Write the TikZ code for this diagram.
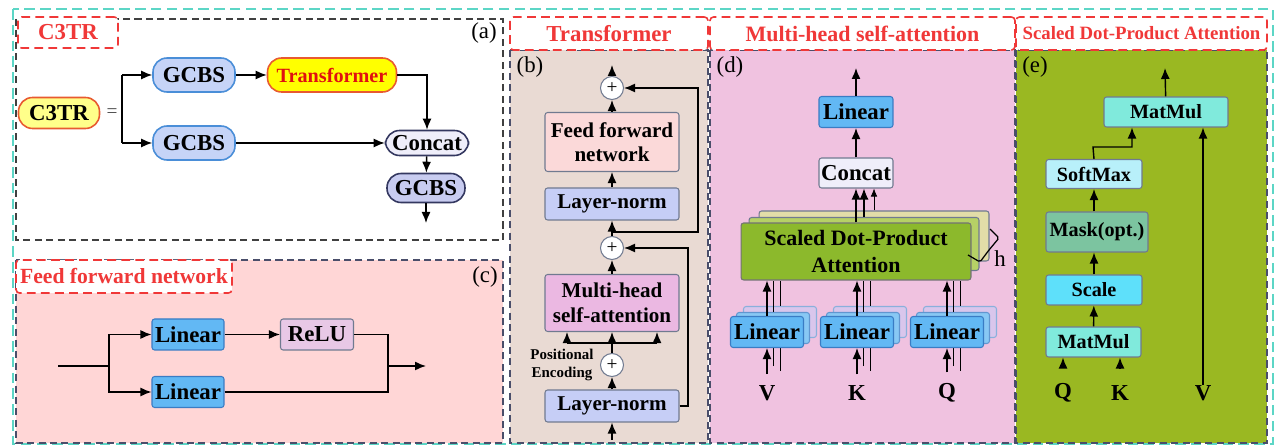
\documentclass[tikz,border=0pt]{standalone}
\usepackage{fontspec}
\setmainfont{Liberation Serif}
\usetikzlibrary{arrows.meta}

\definecolor{cyanout}{HTML}{5CD6C6}
\definecolor{titred}{HTML}{F03838}
\definecolor{pnlgray}{HTML}{4A4E6A}
\definecolor{bgB}{HTML}{E9DAD3}
\definecolor{bgC}{HTML}{FFD6D6}
\definecolor{bgD}{HTML}{F0C2E0}
\definecolor{bgE}{HTML}{9AB822}
\definecolor{gcbsfill}{HTML}{C6D4F7}
\definecolor{gcbsline}{HTML}{4A8ED8}
\definecolor{navy}{HTML}{343860}
\definecolor{gcbsfillB}{HTML}{C8CCF0}
\definecolor{concatfill}{HTML}{EFEEFA}
\definecolor{c3trfill}{HTML}{FFFF8A}
\definecolor{c3trline}{HTML}{E85A30}
\definecolor{trfill}{HTML}{FFFF00}
\definecolor{trtext}{HTML}{E01010}
\definecolor{linfill}{HTML}{62B8F4}
\definecolor{linline}{HTML}{3A7CC4}
\definecolor{relufill}{HTML}{E8C8E6}
\definecolor{ffnfill}{HTML}{FBD9D9}
\definecolor{lnfill}{HTML}{C6CEF6}
\definecolor{mhsafill}{HTML}{EBB8E2}
\definecolor{sdpafill}{HTML}{8CB92C}
\definecolor{sdpamid}{HTML}{B6D166}
\definecolor{sdpaback}{HTML}{E2DDA8}
\definecolor{linmid}{HTML}{88C8F4}
\definecolor{linback}{HTML}{D4C8F0}
\definecolor{mmfill}{HTML}{80EADC}
\definecolor{softfill}{HTML}{B8F0FA}
\definecolor{maskfill}{HTML}{7CC4A0}
\definecolor{scalefill}{HTML}{5EE0FA}
\definecolor{boxline}{HTML}{707A90}

\begin{document}
\begin{tikzpicture}[x=0.02cm,y=-0.02cm,line width=0.8pt,>={Latex[length=2.2mm,width=1.8mm]},
    pill/.style={draw,rounded corners=8pt,line width=0.9pt,inner sep=0pt,minimum width=1.64cm,minimum height=0.68cm,font=\bfseries\fontsize{13}{15}\selectfont},
    blk/.style={draw=boxline,rounded corners=1.5pt,line width=0.6pt,inner sep=0pt,minimum height=0.62cm,font=\bfseries\fontsize{13}{15}\selectfont},
    addop/.style={circle,draw=boxline,fill=white,line width=0.6pt,minimum size=0.46cm,inner sep=0pt,font=\fontsize{11}{11}\selectfont},
    ttl/.style={draw=titred,dash pattern=on 5pt off 3pt,fill=white,line width=0.9pt,rounded corners=2pt,inner sep=0pt,minimum height=0.66cm,text=titred,font=\bfseries\fontsize{13}{15}\selectfont},
    pnl/.style={draw=pnlgray,dash pattern=on 4pt off 2.5pt,line width=0.9pt},
    tag/.style={font=\fontsize{13}{15}\selectfont},
    lbl/.style={inner sep=0pt,font=\bfseries\fontsize{13}{15}\selectfont}]
\useasboundingbox (0,0) rectangle (1279,445);

% frames
\draw[cyanout,dash pattern=on 6pt off 3pt,line width=0.9pt] (13,9) rectangle (1273,444);
\draw[pnl,draw=black!75,fill=white] (16,19) rectangle (503,240);
\draw[pnl,fill=bgC] (16,260) rectangle (503,443);
\draw[pnl,fill=bgB] (510,50) rectangle (708,443);
\draw[pnl,fill=bgD] (710,50) rectangle (1015,443);
\draw[pnl,fill=bgE] (1016,50) rectangle (1267,443);

\node[ttl,minimum width=2cm,minimum height=0.62cm] (ttlA) at (68,32.5) {C3TR};
\node[ttl,minimum width=4.32cm,font=\bfseries\fontsize{12.3}{14}\selectfont] (ttlC) at (124,276.5) {Feed forward network};
\node[ttl,minimum width=3.96cm] (ttlB) at (609,33.5) {Transformer};
\node[ttl,minimum width=6.1cm,font=\bfseries\fontsize{12.5}{14}\selectfont] (ttlD) at (862.5,33.5) {Multi-head self-attention};
\node[ttl,minimum width=5.02cm,font=\bfseries\fontsize{10.7}{12}\selectfont] (ttlE) at (1141.5,33.5) {Scaled Dot-Product Attention};

\node[tag] (tagA) at (484,33) {(a)};
\node[tag] (tagC) at (485,277) {(c)};
\node[tag] (tagB) at (530,67) {(b)};
\node[tag] (tagD) at (730,67) {(d)};
\node[tag] (tagE) at (1035,67) {(e)};

% (a) C3TR
\node[pill,draw=c3trline,fill=c3trfill,minimum width=1.62cm,minimum height=0.62cm] (c3tr) at (59,113) {C3TR};
\node[font=\fontsize{11}{11}\selectfont,text=black!70] (eq) at (112,113) {=};
\node[pill,draw=gcbsline,fill=gcbsfill] (gcbsA) at (194,75) {GCBS};
\node[pill,draw=c3trline,fill=trfill,text=trtext,minimum width=2.58cm,font=\bfseries\fontsize{11.5}{13}\selectfont] (trans) at (332,75) {Transformer};
\node[pill,draw=gcbsline,fill=gcbsfill] (gcbsB) at (194,143) {GCBS};
\node[pill,draw=navy,fill=concatfill,minimum width=1.66cm,minimum height=0.5cm] (concat) at (427,143) {Concat};
\node[pill,draw=navy,fill=gcbsfillB,minimum width=1.56cm,minimum height=0.58cm] (gcbsC) at (426,188) {GCBS};
\coordinate (splitA) at (122,75);
\coordinate (splitB) at (122,143);
\coordinate (outA) at (426,223);
\draw (splitA) -- (splitB);
\draw[->] (splitA) -- (gcbsA);
\draw[->] (splitB) -- (gcbsB);
\draw[->] (gcbsA) -- (trans);
\draw[->] (trans.east) -| (concat.north);
\draw[->] (gcbsB) -- (concat);
\draw[->] (concat) -- (gcbsC);
\draw[->] (gcbsC) -- (outA);

% (c) feed forward network
\node[blk,draw=linline,fill=linfill,minimum width=1.44cm] (linA) at (188,334.5) {Linear};
\node[blk,fill=relufill,minimum width=1.46cm] (relu) at (317,334.5) {ReLU};
\node[blk,draw=linline,fill=linfill,minimum width=1.44cm] (linB) at (188,392) {Linear};
\coordinate (inC) at (58,366);
\coordinate (splitC) at (109,366);
\coordinate (mergeC) at (388,366);
\coordinate (outC) at (426,366);
\draw (inC) -- (splitC);
\draw[->] (splitC) |- (linA);
\draw[->] (splitC) |- (linB);
\draw[->] (linA) -- (relu);
\draw (relu.east) -| (mergeC);
\draw (linB.east) -| (mergeC);
\draw[->] (mergeC) -- (outC);

% (b) transformer
\node[addop] (addT) at (612,88) {+};
\node[blk,fill=ffnfill,minimum width=2.68cm,minimum height=1.18cm,align=center,font=\bfseries\fontsize{12}{14}\selectfont] (ffn) at (612,142) {Feed forward\\network};
\node[blk,fill=lnfill,minimum width=2.68cm,minimum height=0.64cm,font=\bfseries\fontsize{12}{14}\selectfont] (lnU) at (612,204) {Layer-norm};
\node[addop] (addM) at (612,248) {+};
\node[blk,fill=mhsafill,minimum width=2.68cm,minimum height=1.14cm,align=center,font=\bfseries\fontsize{12}{14}\selectfont] (mhsa) at (612,303) {Multi-head\\self-attention};
\node[addop] (addB) at (612,365) {+};
\node[blk,fill=lnfill,minimum width=2.68cm,minimum height=0.64cm,font=\bfseries\fontsize{12}{14}\selectfont] (lnL) at (612,406) {Layer-norm};
\node[align=center,inner sep=0pt,font=\bfseries\fontsize{8.5}{10.5}\selectfont] (posenc) at (562,365) {Positional\\Encoding};
\coordinate (inB) at (612,440);
\coordinate (outB) at (612,65);
\coordinate (brL) at (567,343);
\coordinate (brM) at (612,343);
\coordinate (brR) at (657,343);
\coordinate (resA) at (688,406);
\coordinate (resB) at (612,232);
\coordinate (resC) at (698,232);
\draw[->] (inB) -- (lnL);
\draw[->] (lnL) -- (addB);
\draw[->] (addB) -- (mhsa);
\draw (brL) -- (brR);
\draw[->] (brL) -- (brL |- mhsa.south);
\draw[->] (brR) -- (brR |- mhsa.south);
\draw[->] (mhsa) -- (addM);
\draw[->] (addM) -- (lnU);
\draw[->] (lnU) -- (ffn);
\draw[->] (ffn) -- (addT);
\draw[->] (addT) -- (outB);
\draw[->] (lnL.east) -- (resA) |- (addM.east);
\draw[->] (resB) -- (resC) |- (addT.east);

% (d) multi-head self-attention
\node[blk,draw=linline,fill=linfill,minimum width=1.48cm] (linD) at (856,112) {Linear};
\node[blk,fill=concatfill,minimum width=1.48cm,minimum height=0.6cm] (concatD) at (856,173) {Concat};
\node[blk,fill=sdpaback,minimum width=4.6cm,minimum height=1.0cm] (sdpaBk) at (874,236) {};
\node[blk,fill=sdpamid,minimum width=4.6cm,minimum height=1.06cm] (sdpaMd) at (864,244) {};
\node[blk,draw=black!55,fill=sdpafill,minimum width=4.6cm,minimum height=1.14cm,align=center,font=\bfseries\fontsize{12.5}{15}\selectfont] (sdpa) at (856,251.5) {Scaled Dot-Product\\Attention};
\coordinate (outD) at (856,68);
\draw[->] (linD) -- (outD);
\draw[->] (concatD) -- (linD);
\draw[->] (sdpa.north) -- (concatD.south);
\draw[->,line width=0.6pt] (sdpaMd.north) -- (sdpaMd.north |- concatD.south);
\draw[->,line width=0.4pt,>={Latex[length=1.6mm,width=1.3mm]}] (sdpaBk.north) -- (sdpaBk.north |- concatD.south);
\draw[line width=0.7pt,rounded corners=1pt] (990,229) -- (999,238) -- (989,250) -- (980,262) -- (968,255);
\node[font=\fontsize{13}{15}\selectfont,inner sep=0pt] (hlbl) at (1000,259) {h};
\foreach \nm/\cx in {V/767,K/857,Q/947}{
  \node[blk,draw=linline!60,fill=linback,fill opacity=0.8,text opacity=1,minimum width=1.46cm] (bk\nm) at (\cx+13,322) {};
  \node[blk,draw=linline!80,fill=linmid,minimum width=1.46cm] (md\nm) at (\cx+6,328) {};
  \node[lbl] (lbl\nm) at (\cx,393) {\nm};
  \draw[line width=0.5pt] ([yshift=-0.44cm]md\nm.south) -- (md\nm.south);
  \draw[line width=0.4pt] ([yshift=-0.66cm]bk\nm.south) -- (bk\nm.south);
  \draw[line width=0.5pt] (md\nm.north) -- (md\nm.north |- sdpa.south);
  \draw[line width=0.4pt] (bk\nm.north) -- (bk\nm.north |- sdpa.south);
  \node[blk,draw=linline,fill=linfill,minimum width=1.46cm] (lin\nm) at (\cx,332) {Linear};
  \draw[->,shorten <=6pt] (lbl\nm) -- (lin\nm);
  \draw[->] (lin\nm) -- (lin\nm |- sdpa.south);
}

% (e) scaled dot-product attention
\node[blk,fill=mmfill,minimum width=2.48cm,minimum height=0.6cm,font=\bfseries\fontsize{11.5}{13}\selectfont] (mmT) at (1166,112) {MatMul};
\node[blk,fill=softfill,minimum width=1.92cm,minimum height=0.58cm,font=\bfseries\fontsize{11.5}{13}\selectfont] (soft) at (1094,174) {SoftMax};
\node[blk,fill=maskfill,minimum width=2.04cm,minimum height=0.8cm,font=\bfseries\fontsize{11.5}{13}\selectfont] (mask) at (1097,232) {Mask(opt.)};
\node[blk,fill=scalefill,minimum width=1.92cm,minimum height=0.6cm,font=\bfseries\fontsize{11.5}{13}\selectfont] (scale) at (1094,290) {Scale};
\node[blk,fill=mmfill,minimum width=1.9cm,minimum height=0.6cm,font=\bfseries\fontsize{11.5}{13}\selectfont] (mmB) at (1093.5,342) {MatMul};
\node[lbl] (lblQe) at (1063,393) {Q};
\node[lbl] (lblKe) at (1120,393) {K};
\node[lbl] (lblVe) at (1203,393) {V};
\coordinate (outE) at (1165,68);
\coordinate (bendE) at (1093,147);
\coordinate (bendF) at (1132,147);
\draw[->,shorten <=9pt] (lblQe) -- (lblQe |- mmB.south);
\draw[->,shorten <=9pt] (lblKe) -- (lblKe |- mmB.south);
\draw[->] (mmB) -- (scale);
\draw[->] (scale) -- (mask.south -| scale);
\draw[->] (mask.north -| soft) -- (soft);
\draw[->] (soft.north) -- (bendE) -- (bendF) -- (bendF |- mmT.south);
\draw[->] (lblVe) -- (lblVe |- mmT.south);
\draw[->] (mmT) -- (outE);
\end{tikzpicture}
\end{document}
